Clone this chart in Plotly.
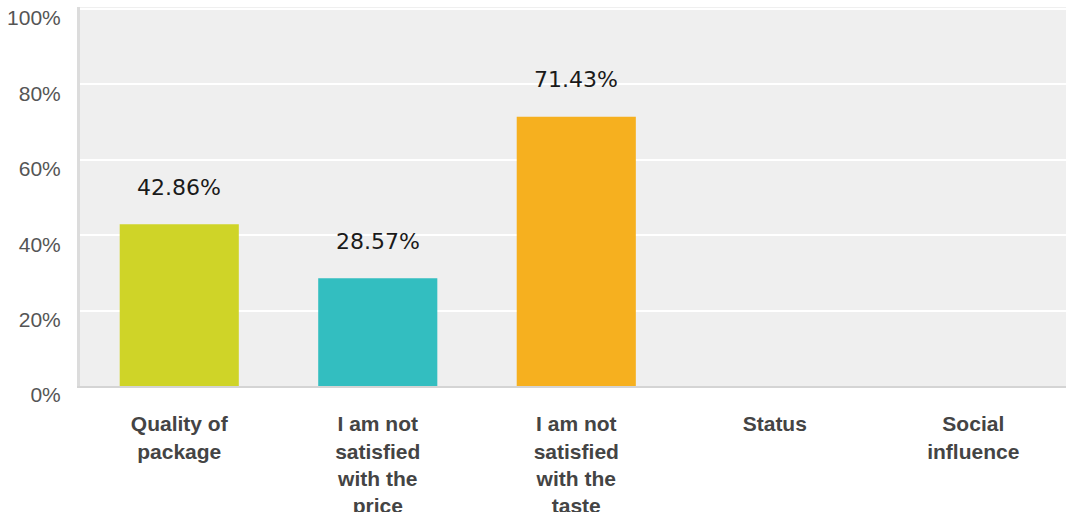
import plotly.graph_objects as go

categories = ["Quality of package", "I am not satisfied with the price",
              "I am not satisfied with the taste", "Status", "Social influence"]
tick_labels = ["Quality of<br>package", "I am not<br>satisfied<br>with the<br>price",
               "I am not<br>satisfied<br>with the<br>taste", "Status", "Social<br>influence"]
values = [42.86, 28.57, 71.43, 0, 0]
colors = ["#cfd428", "#33bec0", "#f6b01f", "#9ccc65", "#7e57c2"]
y_ticks = [0, 20, 40, 60, 80, 100]
y_tick_labels = ["0%", "20%", "40%", "60%", "80%", "100%"]

fig = go.Figure()
fig.add_trace(go.Bar(
    x=categories, y=values, marker=dict(color=colors, line=dict(width=0)),
    hoverinfo="skip", showlegend=False,
))

for c, v in zip(categories, values):
    if v > 0:
        fig.add_annotation(x=c, y=v, text=f"{v:.2f}%", showarrow=False,
                           yanchor="middle", yshift=37,
                           font=dict(family="DejaVu Sans", size=22, color="#1a1a1a"))

fig.update_layout(
    width=1066, height=512,
    margin=dict(l=80, r=0, t=7, b=126, autoexpand=False),
    paper_bgcolor="white", plot_bgcolor="#efefef",
    bargap=0.4,
    xaxis=dict(
        type="category", range=[-0.5, 4.467], automargin=False,
        tickmode="array", tickvals=categories, ticktext=tick_labels,
        tickfont=dict(family="Liberation Sans", size=21, color="#444444", weight="bold"),
        ticks="", ticklabelstandoff=18, showgrid=False,
        showline=True, linecolor="#d4d4d4", linewidth=2, zeroline=False,
        fixedrange=True,
    ),
    yaxis=dict(
        range=[0, 100.5], tickmode="array", tickvals=y_ticks, ticktext=y_tick_labels,
        automargin=False,
        tickfont=dict(family="Liberation Sans", size=21, color="#555555"),
        ticks="", ticklabelstandoff=12, ticklabelshift=9,
        showgrid=True, gridcolor="white", gridwidth=2,
        showline=True, linecolor="#dcdcdc", linewidth=3, zeroline=False,
        fixedrange=True,
    ),
)

fig.write_html("out.html", config={"displayModeBar": False},
               post_script="document.body.style.margin='0';document.body.style.overflow='hidden';")
